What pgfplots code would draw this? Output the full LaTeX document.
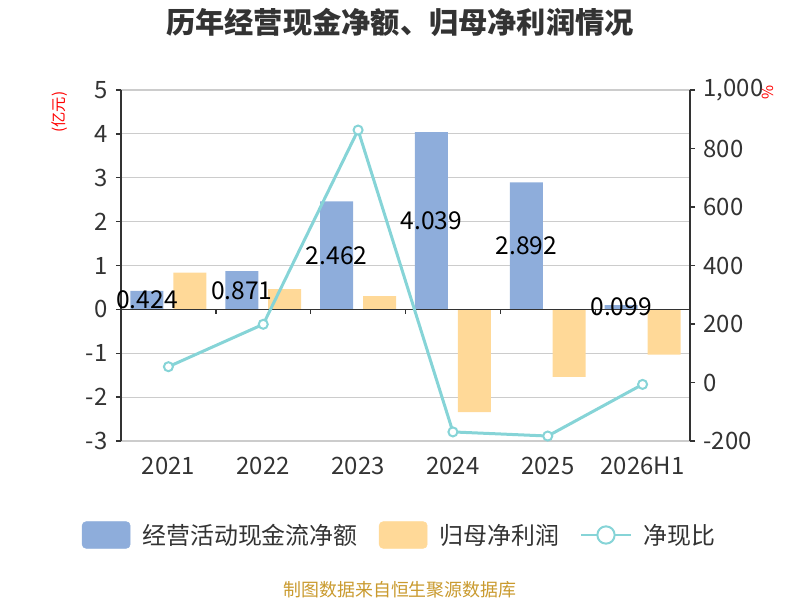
\documentclass[border=0pt]{standalone}
\usepackage{pgfplots}
\pgfplotsset{compat=1.18}
\usepackage{fontspec}
\setmainfont{Noto Sans CJK SC}
\definecolor{barB}{HTML}{8EADDB}
\definecolor{barO}{HTML}{FFD998}
\definecolor{lineC}{HTML}{86D4D7}
\definecolor{txt}{HTML}{333333}
\definecolor{foot}{HTML}{C99A2E}
\definecolor{gridC}{HTML}{CCCCCC}
\begin{document}
\begin{tikzpicture}
\path[use as bounding box] (0,0) rectangle (600bp,450bp);
\node[font=\fontsize{22}{26}\selectfont\bfseries, text=txt] at (300bp,433.5bp) {历年经营现金净额、归母净利润情况};
\node[font=\fontsize{13.5}{16}\selectfont, text=foot] at (300bp,7.5bp) {制图数据来自恒生聚源数据库};
\begin{axis}[
  at={(90.75bp,119.25bp)}, anchor=south west,
  width=426.75bp, height=263.25bp, scale only axis,
  xmin=-0.5, xmax=5.5, ymin=-3, ymax=5,
  axis y line*=left, axis x line*=bottom,
  x axis line style={draw=none},
  y axis line style={txt, line width=1bp},
  xtick={0,...,5}, xticklabels={2021,2022,2023,2024,2025,2026H1},
  xtick style={draw=none},
  ytick={-3,...,5},
  ytick style={txt, line width=1bp},
  tick align=outside, major tick length=3.75bp,
  ymajorgrids, grid style={gridC, line width=0.9bp},
  ticklabel style={font=\fontsize{18}{21}\selectfont, text=txt},
  /pgf/number format/assume math mode=true,
  xticklabel style={anchor=center, yshift=-15bp},
  yticklabel style={xshift=-3bp},
  ylabel={(亿元)},
  ylabel style={at={(axis description cs:-0.1072,0.9373)}, anchor=center, text=red, font=\fontsize{11.5}{13}\selectfont},
]
\addplot[ybar, bar width=24.75bp, fill=barB, draw=none, bar shift=-16.1bp] coordinates {(0,0.424) (1,0.871) (2,2.462) (3,4.039) (4,2.892) (5,0.099)};
\addplot[ybar, bar width=24.75bp, fill=barO, draw=none, bar shift=16.1bp] coordinates {(0,0.84) (1,0.46) (2,0.30) (3,-2.34) (4,-1.54) (5,-1.03)};
\draw[txt, line width=1bp] (axis cs:-0.5,0) -- (axis cs:5.5,0);
\pgfplotsinvokeforeach{0.5,1.5,2.5,3.5,4.5}{\draw[txt, line width=1bp] (axis cs:#1,0) -- ++(0pt,-3.75bp);}
\addplot[draw=none, mark=none, nodes near coords, point meta=explicit symbolic,
  every node near coord/.append style={anchor=center, xshift=-16.1bp, font=\fontsize{18.5}{22}\selectfont, text=black}]
  table[meta=label] {
x y label
0 0.212 0.424
1 0.4355 0.871
2 1.231 2.462
3 2.0195 4.039
4 1.446 2.892
5 0.0495 0.099
};
\end{axis}
\begin{axis}[
  at={(90.75bp,119.25bp)}, anchor=south west,
  width=426.75bp, height=263.25bp, scale only axis,
  xmin=-0.5, xmax=5.5, ymin=-200, ymax=1000,
  axis y line*=right, axis x line=none,
  ytick={-200,0,...,1000},
  y axis line style={txt, line width=1bp},
  ytick style={txt, line width=1bp},
  tick align=outside, major tick length=3.75bp,
  ticklabel style={font=\fontsize{18}{21}\selectfont, text=txt},
  /pgf/number format/assume math mode=true,
  yticklabel style={xshift=3bp},
  ylabel={\%},
  ylabel style={at={(axis description cs:1.137,0.994)}, anchor=center, text=red, font=\fontsize{11.5}{13}\selectfont},
  legend columns=3,
  legend style={at={(0.4903,-0.2678)}, anchor=center, draw=none, fill=none,
    font=\fontsize{18}{21}\selectfont, text=txt,
    /tikz/every odd column/.append style={column sep=7bp},
    /tikz/every even column/.append style={column sep=14bp}},
]
\addlegendimage{legend image code/.code={\fill[barB, rounded corners=3bp] (0bp,-10bp) rectangle (36bp,10bp);}}
\addlegendentry{经营活动现金流净额}
\addlegendimage{legend image code/.code={\fill[barO, rounded corners=3bp] (0bp,-10bp) rectangle (36bp,10bp);}}
\addlegendentry{归母净利润}
\addplot[lineC, line width=2.25bp, mark=*, mark size=3.4bp, mark options={fill=white, line width=1.5bp},
  legend image code/.code={\draw[lineC, line width=1.5bp] (0bp,0bp) -- (37bp,0bp); \draw[lineC, line width=1.5bp, fill=white] (18.5bp,0bp) circle (6.5bp);}]
  coordinates {(0,54) (1,199) (2,863) (3,-169) (4,-183) (5,-6.5)};
\addlegendentry{净现比}
\end{axis}
\end{tikzpicture}
\end{document}
